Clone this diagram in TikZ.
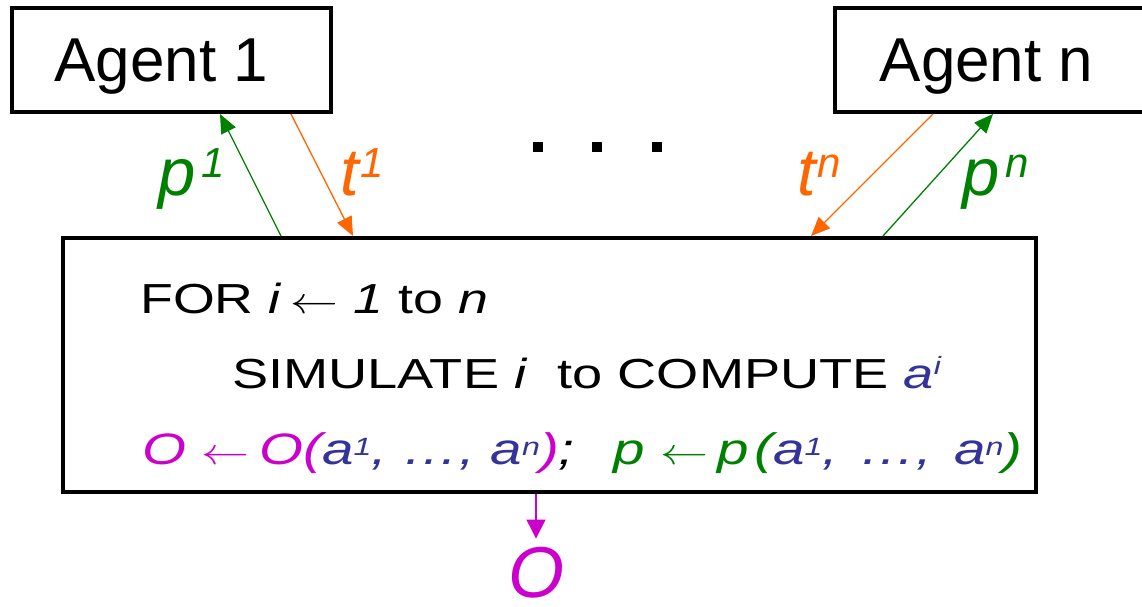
\documentclass[tikz,border=0pt]{standalone}
\usepackage{graphicx}
\usepackage{fontspec}
\setmainfont{Liberation Sans}
\usetikzlibrary{arrows.meta,calc}
\definecolor{mygreen}{RGB}{0,128,0}
\definecolor{myorange}{RGB}{255,102,0}
\definecolor{mymag}{RGB}{204,0,204}
\definecolor{myblue}{RGB}{51,51,153}
\newcommand\mysup[3]{\raisebox{#2}{\fontsize{#1}{#1}\selectfont #3}}
\newcommand\larr{\scalebox{1.5}{$\leftarrow$}}
\begin{document}
\begin{tikzpicture}[x=1pt,y=-1pt,
 box/.style={draw,line width=4pt,inner sep=0pt},
 conn/.style={line width=1.3pt,-{Triangle[length=19pt,width=16pt]}},
 lbl/.style={inner sep=0pt,anchor=base west,font=\fontsize{67}{67}\selectfont\itshape},
 txt/.style={inner sep=0pt,anchor=base west,font=\fontsize{42}{42}\selectfont}]
\useasboundingbox (0,0) rectangle (1142,606);
\node[box,minimum width=319pt,minimum height=104pt] (ag1) at (171.5,60) {\raisebox{-7pt}[\height][\depth]{\fontsize{62}{62}\selectfont\kern-20pt Agent 1}};
\node[box,minimum width=311pt,minimum height=104pt] (agn) at (990.5,60) {\raisebox{-7pt}[\height][\depth]{\fontsize{62}{62}\selectfont\kern-8pt Agent n}};
\node[box,minimum width=973pt,minimum height=254pt] (main) at (549.5,365) {};
\node[txt] (l1) at (140,313) {\scalebox{1.28}[1]{FOR \textit{i}\,\larr\ \textit{1} to \textit{n}}};
\node[txt] (l2) at (232,388) {\scalebox{1.29}[1]{SIMULATE \textit{i}\ \ to COMPUTE \textcolor{myblue}{\textit{a}\mysup{25}{14pt}{\textit{i}}}}};
\node[txt,font=\fontsize{44}{44}\selectfont\itshape] (l3) at (142,464) {\scalebox{1.285}[1]{{\color{mymag}O \larr\,O(\textcolor{myblue}{a\mysup{25}{9pt}{1}, …, a\mysup{25}{9pt}{n}})};\hspace{30pt}{\color{mygreen}p \larr\,p\kern4pt(\textcolor{myblue}{a\mysup{25}{9pt}{1},\hspace{17pt}…,\hspace{17pt}a\mysup{25}{9pt}{n}})}}};
\node[lbl,text=mygreen] (lp1) at (158,195) {p\kern6pt\mysup{42}{18pt}{1}};
\node[lbl,text=myorange] (lt1) at (340,195) {t\kern2pt\mysup{42}{18pt}{1}};
\node[lbl,text=myorange] (ltn) at (797,195) {t\kern2pt\mysup{42}{18pt}{n}};
\node[lbl,text=mygreen] (lpn) at (962,195) {p\kern6pt\mysup{42}{18pt}{n}};
\node[inner sep=0pt,anchor=base,text=mymag,font=\fontsize{72}{72}\selectfont\itshape] (out) at (536,597) {O};
\draw[conn,mygreen] ([xshift=220pt]main.north west) -- ([xshift=210pt]ag1.south west);
\draw[conn,myorange] ([xshift=281pt]ag1.south west) -- ([xshift=292pt]main.north west);
\draw[conn,myorange] ([xshift=100pt]agn.south west) -- ([xshift=750pt]main.north west);
\draw[conn,mygreen] ([xshift=822pt]main.north west) -- ([xshift=160pt]agn.south west);
\draw[line width=1.3pt,mymag,-{Triangle[length=19pt,width=19pt]},shorten >=8pt] (main.south -| out) -- (out.north);
\foreach \x in {538,597,657} \fill (\x-5,142) rectangle (\x+5,152);
\end{tikzpicture}
\end{document}
